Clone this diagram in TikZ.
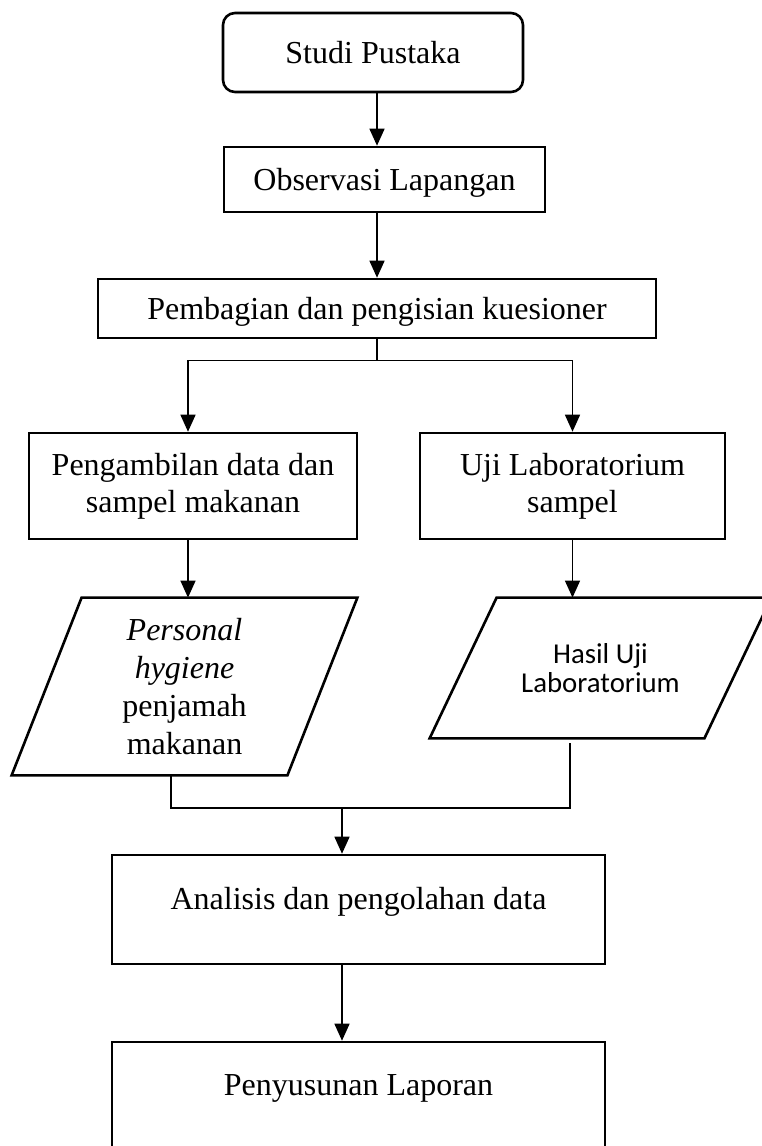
\documentclass[tikz,border=0pt]{standalone}
\usepackage{fontspec}
\setmainfont{Liberation Serif}
\newfontfamily\calibri{Carlito}
\usetikzlibrary{arrows.meta}
\begin{document}
\begin{tikzpicture}[x=0.5pt, y=-0.5pt,
    procbox/.style={draw, line width=1.3pt, align=center, inner sep=0pt, font=\fontsize{16}{18.5}\selectfont},
    iobox/.style={align=center, inner sep=0pt, font=\fontsize{16}{19}\selectfont},
    border/.style={line width=1.3pt, line join=miter},
    flow/.style={line width=0.75pt, -{Triangle[length=8.5pt, width=7.5pt]}},
    link/.style={line width=0.75pt}]
    \useasboundingbox (0, 0) rectangle (761, 1146);
    \node[procbox, rounded corners=6pt, minimum width=150pt, minimum height=39.5pt] (studi) at (373, 52.5) {Studi Pustaka};
    \node[procbox, minimum width=160.5pt, minimum height=32.5pt, text depth=0.5pt] (obs) at (384.5, 179.5) {Observasi Lapangan};
    \node[procbox, minimum width=279pt, minimum height=29.5pt, text depth=0pt] (bagi) at (377, 308.5) {Pembagian dan pengisian kuesioner};
    \node[procbox, minimum width=164pt, minimum height=53pt] (ambil) at (193, 486) {Pengambilan data dan\\sampel makanan};
    \node[procbox, minimum width=152.5pt, minimum height=53pt] (uji) at (572.5, 486) {Uji Laboratorium\\sampel};
    \node[iobox, minimum width=172.5pt, minimum height=88.5pt] (hygiene) at (184.5, 686.5) {\textit{Personal}\\\textit{hygiene}\\penjamah\\makanan};
    \draw[border] ([xshift=35pt]hygiene.north west) -- (hygiene.north east) -- ([xshift=-35pt]hygiene.south east) -- (hygiene.south west) -- cycle;
    \node[iobox, minimum width=170.5pt, minimum height=70pt, font=\calibri\fontsize{14.4}{14.5}\selectfont] (hasil) at (600.5, 668) {Hasil Uji\\Laboratorium};
    \draw[border] ([xshift=33.5pt]hasil.north west) -- (hasil.north east) -- ([xshift=-33.5pt]hasil.south east) -- (hasil.south west) -- cycle;
    \node[procbox, minimum width=246.5pt, minimum height=54.5pt, text depth=11pt] (analisis) at (358.5, 909.5) {Analisis dan pengolahan data};
    \node[procbox, minimum width=246.5pt, minimum height=54pt, text depth=11pt] (laporan) at (358.5, 1096) {Penyusunan Laporan};
    \draw[flow] ([xshift=2pt]studi.south) -- ([xshift=2pt]studi.south |- obs.north);
    \draw[flow] (bagi.north |- obs.south) -- (bagi.north);
    \draw[link] (bagi.south) -- ++(0, 21) coordinate (split);
    \draw[flow] (split) -| ([xshift=-2.5pt]ambil.north);
    \draw[flow] (split) -| (uji.north);
    \draw[flow] ([xshift=-2.5pt]ambil.south) -- ([xshift=-2.5pt]ambil.south |- hygiene.north);
    \draw[flow] (uji.south) -- (uji.south |- hasil.north);
    \coordinate (join) at (342, 808);
    \draw[link] ([xshift=-6.75pt]hygiene.south) |- (join) -| ([xshift=-15.25pt, yshift=-2.5pt]hasil.south);
    \draw[flow] (join) -- (join |- analisis.north);
    \draw[flow] (join |- analisis.south) -- (join |- laporan.north);
\end{tikzpicture}
\end{document}
